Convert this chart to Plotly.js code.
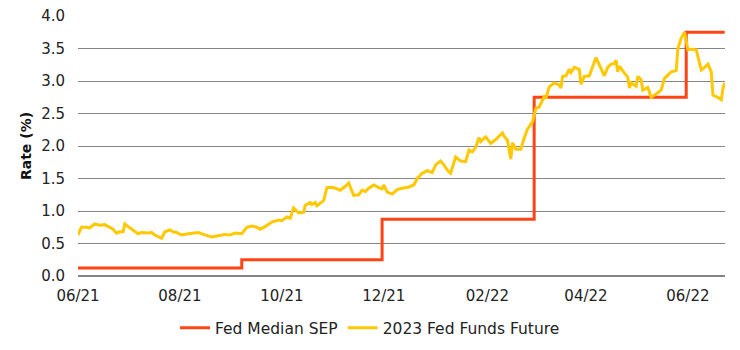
<!DOCTYPE html>
<html>
<head>
<meta charset="utf-8">
<script src="https://cdn.plot.ly/plotly-3.0.1.min.js"></script>
<style>
  html, body { margin: 0; padding: 0; background: #ffffff; }
  #chart { width: 740px; height: 350px; }
</style>
</head>
<body>
<div id="chart"></div>
<script>
// Fed median SEP (step series)
const sepDates = ['2021-06-16', '2021-09-22', '2021-12-15', '2022-03-16', '2022-06-15', '2022-07-08'];
const sepValues = [0.125, 0.25, 0.875, 2.75, 3.75, 3.75];

// 2023 Fed Funds Future (implied rate)
const futDates = [
  '2021-06-16','2021-06-18','2021-06-21','2021-06-23','2021-06-26','2021-06-29','2021-07-02','2021-07-05',
  '2021-07-07','2021-07-09','2021-07-11','2021-07-13','2021-07-14','2021-07-16','2021-07-19','2021-07-22',
  '2021-07-24','2021-07-28','2021-07-30','2021-08-01','2021-08-05','2021-08-07','2021-08-10','2021-08-12',
  '2021-08-14','2021-08-17','2021-08-21','2021-08-24','2021-08-27','2021-08-30','2021-09-04','2021-09-08',
  '2021-09-12','2021-09-15','2021-09-18','2021-09-22','2021-09-24','2021-09-25','2021-09-28','2021-10-01',
  '2021-10-03','2021-10-06','2021-10-10','2021-10-14','2021-10-16','2021-10-19','2021-10-21','2021-10-23',
  '2021-10-26','2021-10-29','2021-10-30','2021-11-02','2021-11-03','2021-11-05','2021-11-06','2021-11-09',
  '2021-11-10','2021-11-12','2021-11-16','2021-11-18','2021-11-20','2021-11-23','2021-11-25','2021-11-28',
  '2021-12-01','2021-12-03','2021-12-05','2021-12-07','2021-12-10','2021-12-13','2021-12-15','2021-12-16',
  '2021-12-18','2021-12-21','2021-12-24','2021-12-27','2021-12-31','2022-01-03','2022-01-05','2022-01-08',
  '2022-01-11','2022-01-14','2022-01-16','2022-01-19','2022-01-21','2022-01-23','2022-01-25','2022-01-28',
  '2022-01-31','2022-02-03','2022-02-05','2022-02-07','2022-02-09','2022-02-11','2022-02-12','2022-02-15',
  '2022-02-18','2022-02-21','2022-02-25','2022-02-26','2022-02-28','2022-03-02','2022-03-03','2022-03-05',
  '2022-03-08','2022-03-10','2022-03-12','2022-03-15','2022-03-17','2022-03-19','2022-03-22','2022-03-23',
  '2022-03-25','2022-03-28','2022-03-31','2022-04-01','2022-04-02','2022-04-04','2022-04-06','2022-04-07',
  '2022-04-09','2022-04-12','2022-04-13','2022-04-15','2022-04-18','2022-04-20','2022-04-22','2022-04-24',
  '2022-04-27','2022-04-29','2022-05-01','2022-05-03','2022-05-04','2022-05-05','2022-05-06','2022-05-09',
  '2022-05-11','2022-05-12','2022-05-13','2022-05-16','2022-05-17','2022-05-19','2022-05-20','2022-05-23',
  '2022-05-25','2022-05-28','2022-05-31','2022-06-02','2022-06-04','2022-06-06','2022-06-09','2022-06-10',
  '2022-06-12','2022-06-14','2022-06-16','2022-06-18','2022-06-21','2022-06-24','2022-06-26','2022-06-28',
  '2022-06-30','2022-07-01','2022-07-04','2022-07-06','2022-07-07','2022-07-08'
];
const futValues = [
  0.63,0.75,0.75,0.74,0.80,0.78,0.79,0.75,
  0.72,0.66,0.68,0.68,0.80,0.76,0.71,0.65,
  0.67,0.66,0.67,0.63,0.58,0.68,0.71,0.68,
  0.67,0.63,0.65,0.66,0.67,0.64,0.60,0.62,
  0.64,0.63,0.66,0.65,0.72,0.75,0.77,0.75,
  0.72,0.76,0.83,0.86,0.85,0.91,0.89,1.05,
  0.97,0.98,1.09,1.13,1.10,1.13,1.08,1.14,
  1.16,1.36,1.36,1.34,1.32,1.38,1.43,1.24,
  1.25,1.32,1.30,1.35,1.40,1.36,1.34,1.40,
  1.29,1.26,1.33,1.35,1.37,1.40,1.50,1.58,
  1.62,1.59,1.71,1.77,1.71,1.63,1.58,1.83,
  1.77,1.76,1.94,1.91,1.98,2.13,2.07,2.14,
  2.04,2.10,2.20,2.15,2.09,1.80,2.05,1.95,
  1.95,2.12,2.26,2.37,2.58,2.60,2.76,2.73,
  2.91,2.97,2.94,2.89,3.07,3.08,3.18,3.13,
  3.21,3.18,2.95,3.07,3.08,3.22,3.36,3.25,
  3.08,3.21,3.26,3.27,3.32,3.14,3.23,3.12,
  3.06,2.89,2.97,2.92,3.07,3.02,2.86,2.90,
  2.75,2.80,2.86,3.04,3.09,3.14,3.16,3.50,
  3.66,3.75,3.48,3.49,3.48,3.17,3.21,3.26,
  3.14,2.78,2.75,2.71,2.89,2.97
];

const tickDates = ['2021-06-16','2021-08-16','2021-10-16','2021-12-16','2022-02-16','2022-04-16','2022-06-16'];
const tickLabels = ['06/21','08/21','10/21','12/21','02/22','04/22','06/22'];
const yTicks = [0, 0.5, 1.0, 1.5, 2.0, 2.5, 3.0, 3.5, 4.0];

const FONT = 'DejaVu Sans, Verdana, sans-serif';

const traces = [
  {
    x: sepDates, y: sepValues, type: 'scatter', mode: 'lines',
    name: 'Fed Median SEP',
    line: { color: '#FF4516', width: 3, shape: 'hv' }
  },
  {
    x: futDates, y: futValues, type: 'scatter', mode: 'lines',
    name: '2023 Fed Funds Future',
    line: { color: '#FFC800', width: 3 }
  }
];

const layout = {
  width: 740, height: 350,
  margin: { l: 78, r: 15, t: 16, b: 74, autoexpand: false },
  paper_bgcolor: '#ffffff', plot_bgcolor: '#ffffff',
  font: { family: FONT, size: 14, color: '#222222' },
  showlegend: true,
  legend: {
    orientation: 'h', x: 0.5, xref: 'container', xanchor: 'center',
    y: 0.062, yref: 'container', yanchor: 'middle',
    font: { family: FONT, size: 15.5, color: '#222222' },
    itemwidth: 30
  },
  xaxis: {
    type: 'date',
    range: ['2021-06-16', '2022-07-08 05:00'],
    tickmode: 'array', tickvals: tickDates, ticktext: tickLabels,
    showgrid: false, zeroline: false, showline: false,
    ticks: '', ticklabelstandoff: 9,
    tickfont: { family: FONT, size: 15, color: '#222222' }
  },
  yaxis: {
    range: [0, 4.0],
    tickmode: 'array', tickvals: yTicks,
    tickformat: '.1f',
    showgrid: true, gridcolor: '#858585', gridwidth: 1,
    zeroline: true, zerolinecolor: '#858585', zerolinewidth: 2.5,
    showline: false, ticks: '', ticklabelstandoff: 12,
    tickfont: { family: FONT, size: 15, color: '#222222' },
    title: { text: '<b>Rate (%)</b>', standoff: 6, font: { family: FONT, size: 14, color: '#111111' } }
  }
};

Plotly.newPlot('chart', traces, layout, { displayModeBar: false, staticPlot: true });
</script>
</body>
</html>
